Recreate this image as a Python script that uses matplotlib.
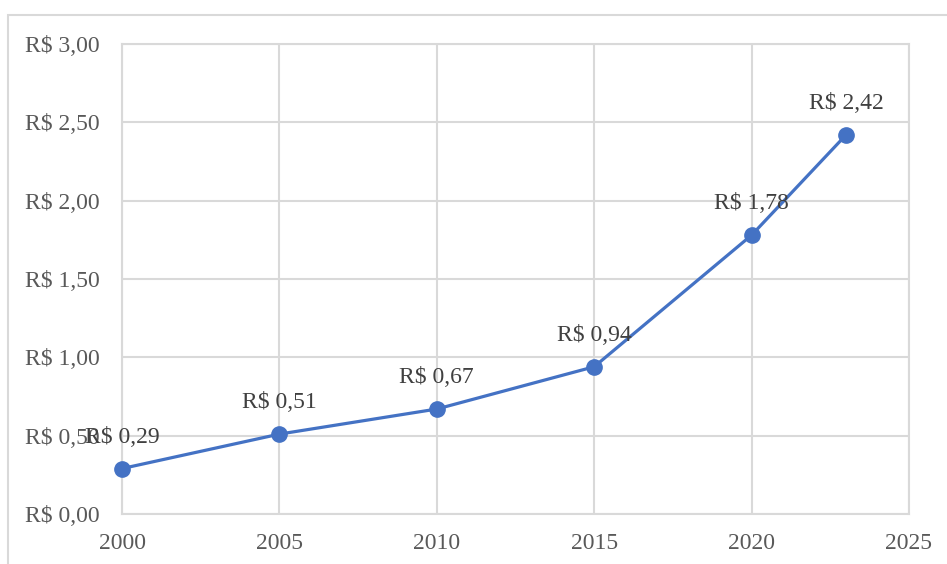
import matplotlib
matplotlib.use("Agg")
import matplotlib.pyplot as plt
from matplotlib.patches import Rectangle

years = [2000, 2005, 2010, 2015, 2020, 2023]
values = [0.29, 0.51, 0.67, 0.94, 1.78, 2.42]
labels = ["R$ 0,29", "R$ 0,51", "R$ 0,67", "R$ 0,94", "R$ 1,78", "R$ 2,42"]
yticks = [0, 0.5, 1.0, 1.5, 2.0, 2.5, 3.0]
ytick_labels = ["R$ 0,00", "R$ 0,50", "R$ 1,00", "R$ 1,50", "R$ 2,00", "R$ 2,50", "R$ 3,00"]
xticks = [2000, 2005, 2010, 2015, 2020, 2025]

plt.rcParams['font.family'] = ['Liberation Serif', 'DejaVu Serif']
W, H = 947, 564
fig = plt.figure(figsize=(W/100, H/100), dpi=100)
fig.patches.append(Rectangle((8/W, -0.1), 1.2, (H-15)/H + 0.1, transform=fig.transFigure,
                             fill=False, edgecolor='#d9d9d9', linewidth=1.5))
ax = fig.add_axes([122/W, (H-514)/H, (909-122)/W, (514-44)/H])
ax.set_xlim(2000, 2025)
ax.set_ylim(0, 3)
ax.set_xticks(xticks)
ax.set_xticklabels([str(x) for x in xticks])
ax.set_yticks(yticks)
ax.set_yticklabels(ytick_labels)
ax.grid(True, color='#d9d9d9', linewidth=1.5)
ax.set_axisbelow(True)
for s in ax.spines.values():
    s.set_color('#d9d9d9')
    s.set_linewidth(1.5)
ax.tick_params(length=0, labelsize=17, colors='#595959')
ax.tick_params(axis='y', pad=16)
ax.tick_params(axis='x', pad=13.5)

ax.plot(years, values, color='#4472C4', linewidth=2.3, marker='o', markersize=11, clip_on=False, zorder=3)
for x, y, t in zip(years, values, labels):
    ax.annotate(t, (x, y), xytext=(0, 22.5), textcoords='offset points', ha='center', va='center',
                fontsize=17, color='#404040', zorder=4)

fig.savefig('out.png', dpi=100)
